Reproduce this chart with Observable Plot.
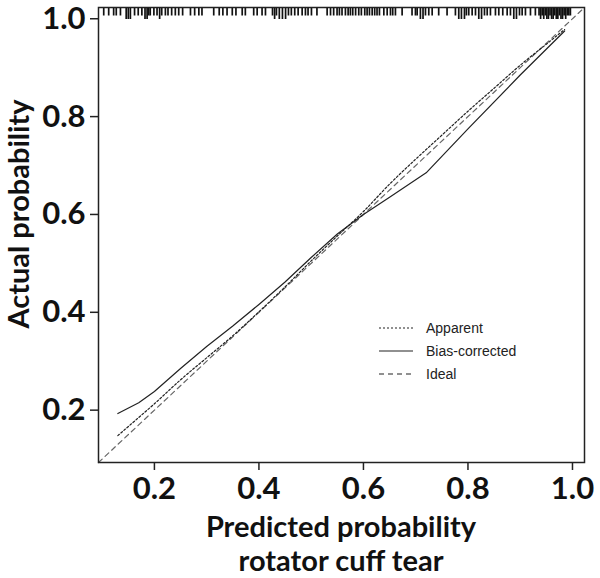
<!DOCTYPE html>
<html><head><meta charset="utf-8">
<script src="https://cdn.jsdelivr.net/npm/d3@7"></script>
<script src="https://cdn.jsdelivr.net/npm/@observablehq/plot@0.6"></script>
<style>
body{margin:0;background:#fff;}
#wrap{position:relative;width:600px;height:578px;overflow:hidden;}
#wrap svg.plot{position:absolute;left:0;top:0;}
#xtitle{position:absolute;left:98px;width:486px;top:509px;text-align:center;font-family:Lato,"Open Sans",sans-serif;font-weight:bold;font-size:29px;line-height:34px;color:#111;}
#ytitle{position:absolute;left:-132px;width:300px;top:197px;height:34px;text-align:center;font-family:Lato,"Open Sans",sans-serif;font-weight:bold;font-size:29px;line-height:34px;color:#111;transform:rotate(-90deg);transform-origin:50% 50%;white-space:nowrap;}
#legend{position:absolute;left:378px;top:316px;font-family:"Liberation Sans",Arial,sans-serif;font-size:14px;color:#222;}
#legend div{display:flex;align-items:center;height:23px;}
#legend svg{margin-right:12px;}
</style></head><body><div id="wrap"></div>
<script>
// Apparent calibration (dotted)
const apparentX = [0.13, 0.17, 0.20, 0.25, 0.30, 0.35, 0.40, 0.45, 0.50, 0.55, 0.60, 0.65, 0.70, 0.75, 0.80, 0.85, 0.90, 0.95, 0.985];
const apparentY = [0.148, 0.185, 0.213, 0.262, 0.307, 0.352, 0.401, 0.452, 0.505, 0.556, 0.606, 0.662, 0.713, 0.762, 0.811, 0.858, 0.905, 0.948, 0.978];
// Bias-corrected calibration (solid)
const biasX = [0.13, 0.17, 0.20, 0.25, 0.30, 0.35, 0.40, 0.45, 0.50, 0.55, 0.60, 0.65, 0.72, 0.80, 0.90, 0.985];
const biasY = [0.193, 0.215, 0.238, 0.285, 0.330, 0.372, 0.416, 0.462, 0.512, 0.560, 0.600, 0.635, 0.685, 0.775, 0.885, 0.975];
// Ideal line
const idealX = [0.093, 1.023];
const idealY = [0.093, 1.023];
// Rug of predicted probabilities (repeated values = ties)
const rugX = [0.103, 0.1125, 0.122, 0.127, 0.135, 0.146, 0.146, 0.150, 0.150, 0.154, 0.154, 0.162, 0.169, 0.176, 0.182, 0.182, 0.186, 0.186, 0.189, 0.192, 0.199, 0.205, 0.210, 0.210, 0.214, 0.221, 0.226, 0.233, 0.240, 0.2465, 0.254, 0.269, 0.277, 0.285, 0.291, 0.3135, 0.324, 0.331, 0.339, 0.349, 0.356, 0.368, 0.374, 0.390, 0.3966, 0.406, 0.4125, 0.426, 0.430, 0.430, 0.4335, 0.439, 0.439, 0.445, 0.445, 0.451, 0.451, 0.4565, 0.462, 0.4685, 0.475, 0.4827, 0.489, 0.494, 0.5005, 0.511, 0.5305, 0.537, 0.543, 0.5495, 0.554, 0.559, 0.5655, 0.5707, 0.575, 0.5795, 0.585, 0.591, 0.596, 0.6025, 0.607, 0.6115, 0.6167, 0.6215, 0.626, 0.6306, 0.639, 0.6454, 0.6517, 0.656, 0.6612, 0.674, 0.693, 0.6995, 0.7028, 0.709, 0.709, 0.714, 0.714, 0.7187, 0.725, 0.7315, 0.744, 0.760, 0.776, 0.7824, 0.7824, 0.7875, 0.7875, 0.7933, 0.7933, 0.797, 0.8015, 0.808, 0.8144, 0.8207, 0.8207, 0.826, 0.826, 0.8316, 0.8368, 0.843, 0.8526, 0.859, 0.8666, 0.875, 0.8813, 0.8877, 0.8877, 0.8928, 0.8928, 0.8986, 0.9037, 0.910, 0.9196, 0.929, 0.936, 0.939, 0.939, 0.942, 0.945, 0.945, 0.948, 0.951, 0.951, 0.954, 0.954, 0.957, 0.960, 0.960, 0.963, 0.963, 0.966, 0.969, 0.969, 0.972, 0.972, 0.975, 0.978, 0.978, 0.981, 0.981, 0.984, 0.987, 0.987, 0.990, 0.993, 0.996];
const tickValues = [0.2, 0.4, 0.6, 0.8, 1.0];
const domain = [0.093, 1.023];
const yTitle = "Actual probability";
const xTitleLines = ["Predicted probability", "rotator cuff tear"];
const legendLabels = ["Apparent", "Bias-corrected", "Ideal"];

const apparent = apparentX.map((x, i) => ({x, y: apparentY[i]}));
const bias = biasX.map((x, i) => ({x, y: biasY[i]}));
const ideal = idealX.map((x, i) => ({x, y: idealY[i]}));
const rug = Array.from(d3.rollup(rugX, v => v.length, d => d), ([x, n]) => ({x, n}));
const pxPerUnit = (510 - 48 - 7) / (domain[1] - domain[0]);

const plot = Plot.plot({
  width: 600,
  height: 510,
  marginLeft: 98,
  marginRight: 16,
  marginTop: 7,
  marginBottom: 48,
  className: "plot",
  style: {fontFamily: "Lato, 'Open Sans', sans-serif", background: "#fff", color: "#111"},
  x: {domain, ticks: tickValues, tickFormat: d3.format(".1f")},
  y: {domain, ticks: tickValues, tickFormat: d3.format(".1f")},
  marks: [
    Plot.line(ideal, {x: "x", y: "y", stroke: "#666", strokeWidth: 1.2, strokeDasharray: "5,4"}),
    Plot.line(apparent, {x: "x", y: "y", stroke: "#222", strokeWidth: 1.2, strokeDasharray: "2,2", curve: "monotone-x"}),
    Plot.line(bias, {x: "x", y: "y", stroke: "#222", strokeWidth: 1.2, curve: "linear"}),
    Plot.ruleX(rug, {x: "x", y1: domain[1], y2: d => domain[1] - (5 + 3.5 * d.n) / pxPerUnit, stroke: "#111", strokeWidth: 1.7}),
    Plot.frame({stroke: "#222", strokeWidth: 1.5}),
    Plot.axisX({ticks: tickValues, tickFormat: d3.format(".1f"), tickSize: 8, tickPadding: 6, fontSize: 31, fontWeight: "bold", label: null, stroke: "#222", strokeWidth: 1.5}),
    Plot.axisY({ticks: tickValues, tickFormat: d3.format(".1f"), tickSize: 8, tickPadding: 5, fontSize: 31, fontWeight: "bold", label: null, stroke: "#222", strokeWidth: 1.5})
  ]
});

const wrap = document.getElementById("wrap");
wrap.appendChild(plot);
const yt = document.createElement("div");
yt.id = "ytitle";
yt.textContent = yTitle;
wrap.appendChild(yt);
const xt = document.createElement("div");
xt.id = "xtitle";
xTitleLines.forEach(t => { const d = document.createElement("div"); d.textContent = t; xt.appendChild(d); });
wrap.appendChild(xt);

const dashes = ["2,2", null, "5,4"];
const leg = document.createElement("div");
leg.id = "legend";
legendLabels.forEach((t, i) => {
  const row = document.createElement("div");
  const s = d3.create("svg").attr("width", 36).attr("height", 10);
  s.append("line").attr("x1", 1).attr("x2", 35).attr("y1", 5).attr("y2", 5)
    .attr("stroke", "#222").attr("stroke-width", 1.2).attr("stroke-dasharray", dashes[i]);
  row.appendChild(s.node());
  const sp = document.createElement("span");
  sp.textContent = t;
  row.appendChild(sp);
  leg.appendChild(row);
});
wrap.appendChild(leg);
</script></body></html>
